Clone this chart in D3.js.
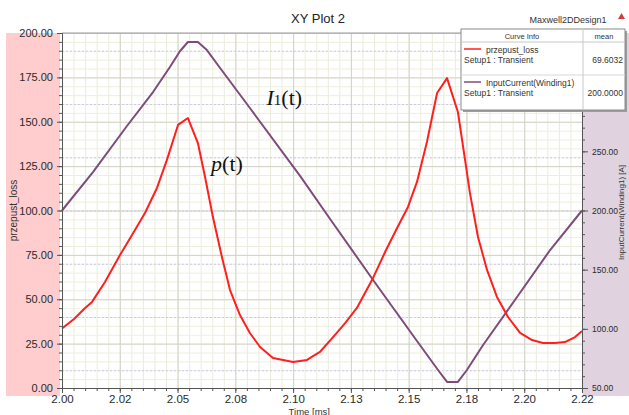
<!DOCTYPE html>
<html>
<head>
<meta charset="utf-8">
<script src="https://cdn.jsdelivr.net/npm/d3@7"></script>
<style>
body { margin: 0; background: #fff; }
text { font-family: "Liberation Sans", Arial, sans-serif; }
</style>
</head>
<body>
<div id="chart"></div>
<script>
// data
var timeP = [2.0000, 2.0052, 2.0100, 2.0130, 2.0186, 2.0251, 2.0303, 2.0359, 2.0411, 2.0454,
    2.0502, 2.0545, 2.0588, 2.0619, 2.0653, 2.0692, 2.0727, 2.0770, 2.0813, 2.0857,
    2.0913, 2.1000, 2.1060, 2.1116, 2.1173, 2.1225, 2.1276, 2.1311, 2.1346, 2.1398,
    2.1450, 2.1497, 2.1536, 2.1579, 2.1623, 2.1666, 2.1713, 2.1744, 2.1765, 2.1800,
    2.1839, 2.1882, 2.1930, 2.1982, 2.2034, 2.2081, 2.2133, 2.2176, 2.2220, 2.2250];
var lossP = [33.5, 38.9, 45.1, 48.5, 59.7, 74.9, 86.2, 98.6, 112.7, 128.5,
    148.2, 152.1, 138.0, 118.9, 96.3, 73.8, 55.2, 41.1, 31.0, 23.1,
    16.9, 14.6, 15.8, 20.3, 28.7, 36.6, 45.1, 53.5, 62.0, 76.6,
    90.1, 102.0, 116.1, 138.6, 166.2, 174.6, 155.5, 128.5, 109.9, 85.1,
    66.5, 51.3, 40.0, 31.0, 27.0, 25.4, 25.4, 25.9, 28.7, 32.1];

var timeI = [2.0000, 2.0134, 2.0281, 2.0394, 2.0467, 2.0511, 2.0545, 2.0588, 2.0627, 2.0684,
    2.0813, 2.1030, 2.1160, 2.1346, 2.1536, 2.1627, 2.1666, 2.1713, 2.1752, 2.1822,
    2.1969, 2.2112, 2.2250];
var currentI = [200.0, 232.5, 271.4, 300.1, 321.3, 334.8, 342.4, 342.4, 335.6, 320.4,
    286.6, 229.2, 192.8, 141.3, 89.7, 65.2, 55.1, 55.1, 65.2, 86.3,
    126.9, 166.6, 200.0];

var xTicks = [2.000, 2.025, 2.050, 2.075, 2.100, 2.125, 2.150, 2.175, 2.200, 2.225];
var xTickLabels = ["2.00", "2.02", "2.05", "2.08", "2.10", "2.13", "2.15", "2.18", "2.20", "2.22"];
var leftTicks = [0, 25, 50, 75, 100, 125, 150, 175, 200];
var rightTicks = [50, 100, 150, 200, 250, 300, 350];
// labels of 300 and 350 sit under the legend box in the picture
var rightTickLabels = ["50.00", "100.00", "150.00", "200.00", "250.00", "", ""];
var blueGrid = [190, 160, 130, 100, 70, 40, 10];

var legendNames = ["przepust_loss", "InputCurrent(Winding1)"];
var legendSetup = ["Setup1 : Transient", "Setup1 : Transient"];
var legendMeans = ["69.6032", "200.0000"];

var svgWidth = 629;
var svgHeight = 415;
var margin = { top: 33, right: 47, bottom: 27, left: 62 };
var chartWidth = svgWidth - margin.left - margin.right;
var chartHeight = svgHeight - margin.top - margin.bottom;

var redColor = "#ff1f1f";
var purpleColor = "#7d4c7a";
var serif = "'Liberation Serif', 'DejaVu Serif', serif";

var svg = d3.select("#chart")
    .append("svg")
    .attr("width", svgWidth)
    .attr("height", svgHeight);

// coloured axis bands
svg.append("rect")
    .attr("x", 6).attr("y", margin.top)
    .attr("width", margin.left - 8).attr("height", chartHeight + 8)
    .attr("fill", "#ffcdcd");
svg.append("rect")
    .attr("x", margin.left + chartWidth + 1).attr("y", margin.top)
    .attr("width", margin.right).attr("height", chartHeight + 8)
    .attr("fill", "#e0d3df");

var chartGroup = svg.append("g")
    .attr("transform", `translate(${margin.left}, ${margin.top})`);

var xScale = d3.scaleLinear().domain([2.0, 2.225]).range([0, chartWidth]);
var yLeft = d3.scaleLinear().domain([0, 200]).range([chartHeight, 0]);
var yRight = d3.scaleLinear().domain([50, 350]).range([chartHeight, 0]);

chartGroup.append("rect")
    .attr("width", chartWidth).attr("height", chartHeight)
    .attr("fill", "#fff");

// grid: minor, blue dotted, major
var xMinor = d3.range(0, 46).map(i => 2.0 + i * 0.005);
var yMinor = d3.range(0, 41).map(i => i * 5);

chartGroup.append("g")
    .call(d3.axisBottom(xScale).tickValues(xMinor).tickSize(chartHeight).tickFormat(""))
    .call(g => g.select(".domain").remove())
    .selectAll("line").attr("stroke", "#ebebdb");
chartGroup.append("g")
    .call(d3.axisLeft(yLeft).tickValues(yMinor).tickSize(-chartWidth).tickFormat(""))
    .call(g => g.select(".domain").remove())
    .selectAll("line").attr("stroke", "#eeeedf");
chartGroup.append("g")
    .call(d3.axisLeft(yLeft).tickValues(blueGrid).tickSize(-chartWidth).tickFormat(""))
    .call(g => g.select(".domain").remove())
    .selectAll("line").attr("stroke", "#c9c9f2").attr("stroke-dasharray", "2,2");
chartGroup.append("g")
    .call(d3.axisBottom(xScale).tickValues(xTicks).tickSize(chartHeight).tickFormat(""))
    .call(g => g.select(".domain").remove())
    .selectAll("line").attr("stroke", "#d2d2c8");
chartGroup.append("g")
    .call(d3.axisLeft(yLeft).tickValues(leftTicks).tickSize(-chartWidth).tickFormat(""))
    .call(g => g.select(".domain").remove())
    .selectAll("line").attr("stroke", "#d2d2c8");

// top border
chartGroup.append("line")
    .attr("x1", 0).attr("x2", chartWidth).attr("y1", 0).attr("y2", 0)
    .attr("stroke", "#9a9a9a");

// curves
var lineP = d3.line()
    .x((d, i) => xScale(timeP[i]))
    .y(d => yLeft(d));
var lineI = d3.line()
    .x((d, i) => xScale(timeI[i]))
    .y(d => yRight(d));

chartGroup.append("path")
    .datum(currentI)
    .attr("d", lineI)
    .attr("fill", "none")
    .attr("stroke", purpleColor)
    .attr("stroke-width", 2)
    .attr("stroke-linejoin", "round");

chartGroup.append("path")
    .datum(lossP)
    .attr("d", lineP)
    .attr("fill", "none")
    .attr("stroke", redColor)
    .attr("stroke-width", 2)
    .attr("stroke-linejoin", "round");

// axes
function styleAxis(g) {
    g.select(".domain").attr("stroke", "#555");
    g.selectAll("line").attr("stroke", "#555");
    g.selectAll("text").attr("fill", "#2a2a2a");
}

chartGroup.append("g")
    .call(d3.axisLeft(yLeft).tickValues(yMinor).tickSize(3).tickFormat(""))
    .call(styleAxis);
chartGroup.append("g")
    .call(d3.axisLeft(yLeft).tickValues(leftTicks).tickSize(5).tickSizeOuter(0)
        .tickFormat(d3.format(".2f")))
    .call(styleAxis)
    .selectAll("text").attr("font-size", "11px").attr("dx", "-1");

chartGroup.append("g")
    .attr("transform", `translate(0, ${chartHeight})`)
    .call(d3.axisBottom(xScale).tickValues(xMinor).tickSize(3).tickFormat(""))
    .call(styleAxis);
chartGroup.append("g")
    .attr("transform", `translate(0, ${chartHeight})`)
    .call(d3.axisBottom(xScale).tickValues(xTicks).tickSize(5).tickSizeOuter(0)
        .tickFormat((d, i) => xTickLabels[i]))
    .call(styleAxis)
    .selectAll("text").attr("font-size", "11.5px").attr("dy", "0.62em");

var rightMinor = d3.range(0, 31).map(i => 50 + i * 10);
chartGroup.append("g")
    .attr("transform", `translate(${chartWidth}, 0)`)
    .call(d3.axisRight(yRight).tickValues(rightMinor).tickSize(3).tickFormat(""))
    .call(styleAxis);
chartGroup.append("g")
    .attr("transform", `translate(${chartWidth}, 0)`)
    .call(d3.axisRight(yRight).tickValues(rightTicks).tickSize(6).tickSizeOuter(0)
        .tickFormat((d, i) => rightTickLabels[i]))
    .call(styleAxis)
    .selectAll("text").attr("font-size", "8.5px").attr("dx", "1");

// axis titles
svg.append("text")
    .attr("transform", `translate(17, ${margin.top + chartHeight / 2}) rotate(-90)`)
    .attr("text-anchor", "middle")
    .attr("font-size", "10px")
    .attr("fill", "#333")
    .text("przepust_loss");

svg.append("text")
    .attr("transform", `translate(624, ${margin.top + yRight(200) + 2}) rotate(-90)`)
    .attr("text-anchor", "middle")
    .attr("font-size", "8px")
    .attr("fill", "#333")
    .text("InputCurrent(Winding1) [A]");

svg.append("text")
    .attr("x", margin.left + xScale(2.107))
    .attr("y", 415)
    .attr("text-anchor", "middle")
    .attr("font-size", "9.5px")
    .attr("fill", "#333")
    .text("Time [ms]");

// title
svg.append("text")
    .attr("x", 318).attr("y", 23)
    .attr("text-anchor", "middle")
    .attr("font-size", "13px")
    .attr("fill", "#222")
    .text("XY Plot 2");

svg.append("text")
    .attr("x", 568).attr("y", 23)
    .attr("text-anchor", "middle")
    .attr("font-size", "9px")
    .attr("fill", "#333")
    .text("Maxwell2DDesign1");

svg.append("path")
    .attr("d", "M618,19 L621.5,13 L625,19 Z")
    .attr("fill", "#d23c3c");

// curve annotations
var ann1 = chartGroup.append("text")
    .attr("x", xScale(2.0885))
    .attr("y", yRight(289))
    .style("font-family", serif)
    .attr("font-size", "22px")
    .attr("fill", "#111");
ann1.append("tspan").attr("font-style", "italic").text("I");
ann1.append("tspan").attr("font-size", "15px").text("1");
ann1.append("tspan").text("(t)");

var ann2 = chartGroup.append("text")
    .attr("x", xScale(2.0645))
    .attr("y", yLeft(122))
    .style("font-family", serif)
    .attr("font-size", "22px")
    .attr("fill", "#111");
ann2.append("tspan").attr("font-style", "italic").text("p");
ann2.append("tspan").text("(t)");

// legend box
var lg = svg.append("g").attr("transform", "translate(461, 29)");
var lgW = 164, lgH = 81;
lg.append("rect")
    .attr("x", 2).attr("y", 2).attr("width", lgW).attr("height", lgH)
    .attr("fill", "#9c9c9c");
lg.append("rect")
    .attr("width", lgW).attr("height", lgH)
    .attr("fill", "#fff")
    .attr("stroke", "#8a8a8a");
lg.append("line")
    .attr("x1", 0).attr("x2", lgW).attr("y1", 13).attr("y2", 13)
    .attr("stroke", "#c8c8c8");
lg.append("line")
    .attr("x1", 0).attr("x2", lgW).attr("y1", 46).attr("y2", 46)
    .attr("stroke", "#d8d8d8");
lg.append("line")
    .attr("x1", 122).attr("x2", 122).attr("y1", 0).attr("y2", lgH)
    .attr("stroke", "#c8c8c8");
lg.append("text")
    .attr("x", 61).attr("y", 10)
    .attr("text-anchor", "middle").attr("font-size", "7.5px").attr("fill", "#333")
    .text("Curve Info");
lg.append("text")
    .attr("x", 143).attr("y", 10)
    .attr("text-anchor", "middle").attr("font-size", "7.5px").attr("fill", "#333")
    .text("mean");

var rows = lg.selectAll(".row")
    .data(legendNames)
    .enter()
    .append("g")
    .attr("class", "row")
    .attr("transform", (d, i) => `translate(0, ${i * 33})`);
rows.append("line")
    .attr("x1", 3).attr("x2", 20).attr("y1", 20).attr("y2", 20)
    .attr("stroke", (d, i) => i === 0 ? redColor : purpleColor)
    .attr("stroke-width", 1.5);
rows.append("text")
    .attr("x", 25).attr("y", 24)
    .attr("font-size", "8.5px").attr("fill", "#333")
    .text(d => d);
rows.append("text")
    .attr("x", 3).attr("y", 34)
    .attr("font-size", "8.5px").attr("fill", "#333")
    .text((d, i) => legendSetup[i]);
rows.append("text")
    .attr("x", 162).attr("y", 34)
    .attr("text-anchor", "end")
    .attr("font-size", "8.5px").attr("fill", "#333")
    .text((d, i) => legendMeans[i]);
</script>
</body>
</html>
